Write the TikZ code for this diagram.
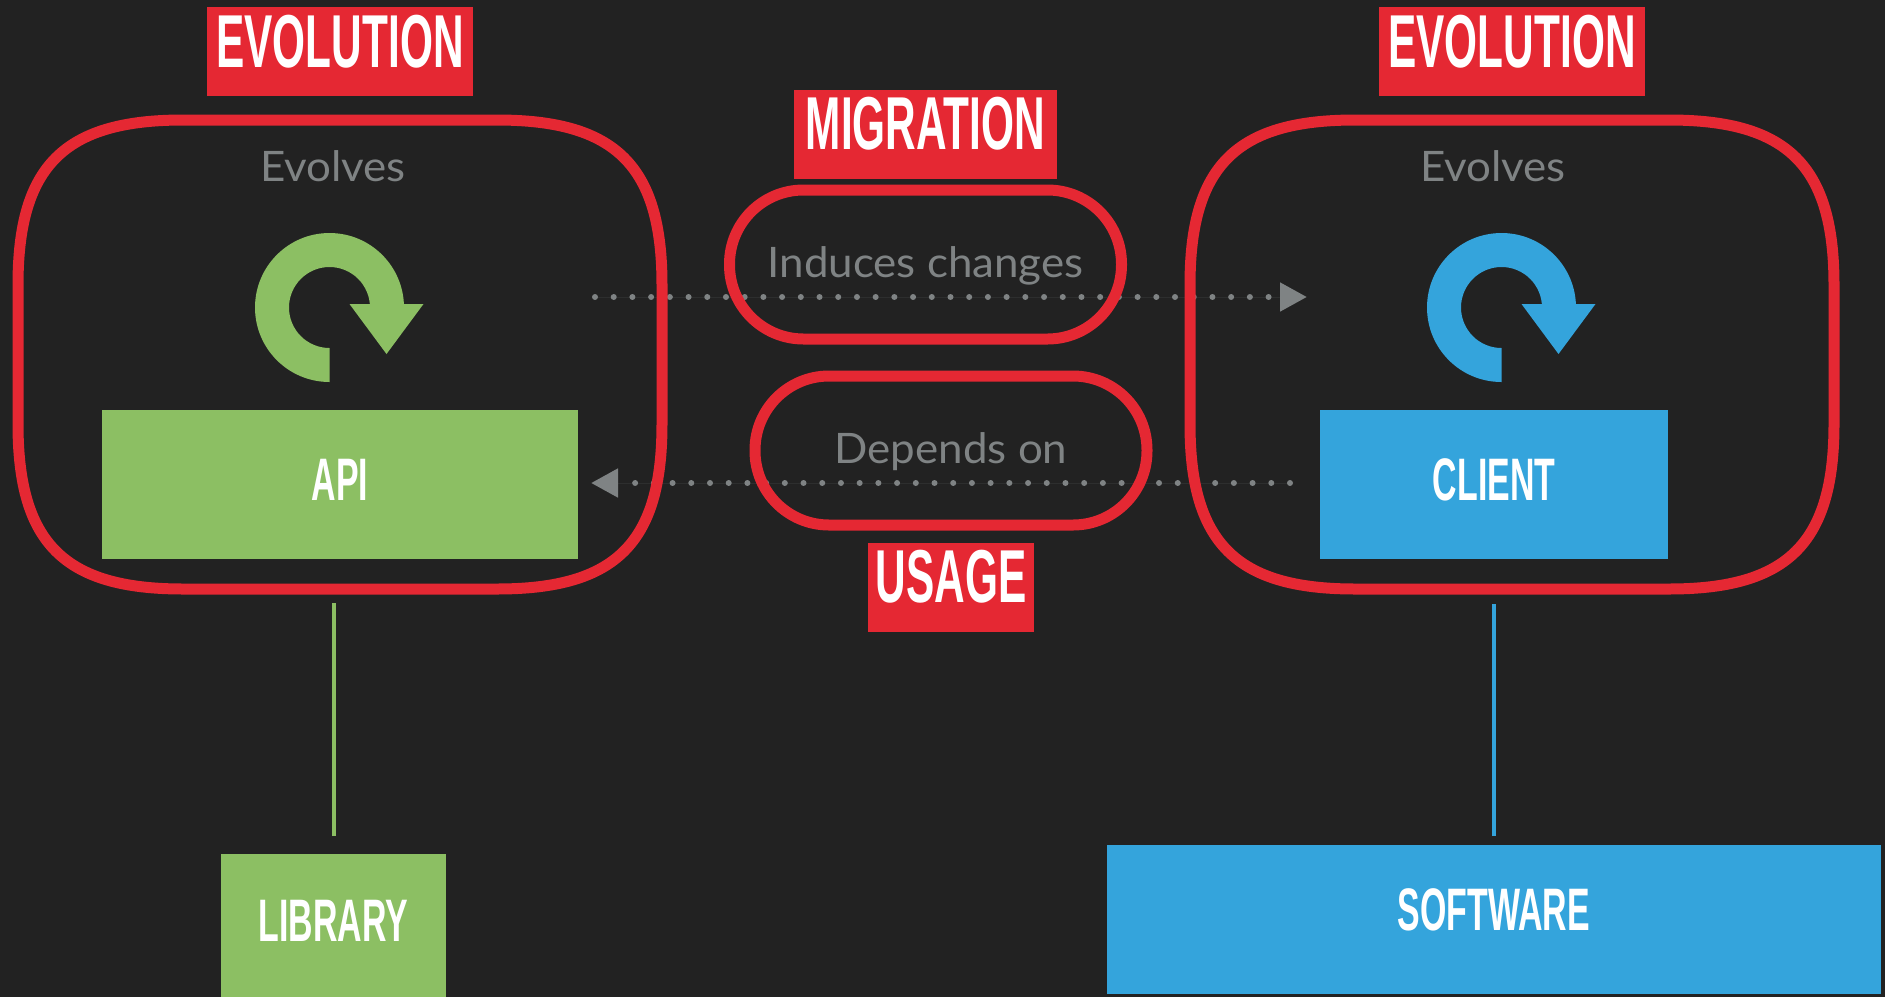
\documentclass[tikz,border=0pt]{standalone}
\usepackage{fontspec}
\usepackage{tikz}
\usetikzlibrary{positioning,arrows.meta}
\newfontfamily\tagfont[FakeStretch=0.565]{Liberation Sans}
\newfontfamily\notefont[FakeStretch=1.045]{Lato}
\definecolor{bgdark}{HTML}{222222}
\definecolor{tagred}{HTML}{E52833}
\definecolor{apigreen}{HTML}{8CBF63}
\definecolor{clientblue}{HTML}{34A4DC}
\definecolor{notegray}{HTML}{7F8384}
\tikzstyle{redtag} = [fill=tagred, text=white, outer sep=0pt, inner xsep=0pt, inner ysep=8pt,
    text height=52pt, text depth=21pt, font=\tagfont\bfseries\fontsize{75}{80}\selectfont]
\tikzstyle{evolvebox} = [rectangle, outer sep=0pt, inner sep=0pt,
    minimum width=644pt, minimum height=469pt]
\tikzstyle{redline} = [draw=tagred, line width=11pt]
\tikzstyle{pill} = [redline, rectangle, rounded corners=74pt,
    minimum width=392pt, minimum height=149pt, text=notegray, text height=29pt, text depth=3.5pt,
    font=\notefont\fontsize{42}{48}\selectfont]
\tikzstyle{colorbox} = [text=white, outer sep=0pt, inner sep=0pt, text height=41.5pt, text depth=10pt,
    font=\tagfont\bfseries\fontsize{60}{64}\selectfont]
\tikzstyle{evolvetext} = [text=notegray, anchor=base, font=\notefont\fontsize{42}{48}\selectfont]
\tikzstyle{dottedlink} = [draw=notegray, fill=notegray, line width=6pt, line cap=round,
    dash pattern=on 0.01pt off 18.7pt]
\tikzstyle{linktip} = [-{Triangle[length=27pt,width=27.6pt]}]

\begin{document}
\begin{tikzpicture}[x=1pt,y=1pt]

\useasboundingbox (0,-997) rectangle (1885,0);
\fill[bgdark] (0,-997) rectangle (1885,0);

\node [colorbox, fill=apigreen, minimum width=476pt, minimum height=149pt] (api) at (340,-484.5) {API};
\node [colorbox, fill=clientblue, minimum width=348pt, minimum height=149pt] (client) at (1494,-484.5) {CLIENT};
\node [colorbox, fill=apigreen, minimum width=225pt, minimum height=143pt] (library) at (333.5,-925.5) {LIBRARY};
\node [colorbox, fill=clientblue, minimum width=774pt, minimum height=149pt, text depth=19pt] (software) at (1494,-919.5) {SOFTWARE};

% circular arrows
\foreach \cx/\col in {329.5/apigreen, 1501.5/clientblue}{
    \fill[\col, shift={(\cx,-307.5)}] (0,-74.5) arc [start angle=270, end angle=0, radius=74.5]
        -- (74.5,3.5) -- (94,3.5) -- (57,-46.5) -- (20,3.5) -- (40.5,3.5) -- (40.5,0)
        arc [start angle=0, end angle=270, radius=40.5] -- cycle;
}

\node [evolvetext] (evolvesapi) at (333,-181.5) {Evolves};
\node [evolvetext] (evolvesclient) at (1493,-181.5) {Evolves};

% dotted links go under the red outlines
\coordinate (changesstart) at (595,-297);
\coordinate (changesend) at (1307,-297);
\draw [dottedlink, linktip] (changesstart) -- (changesend);
\draw [dottedlink, linktip, shorten <=30pt, shorten >=13pt] ([yshift=1.5pt]client.west) -- ([yshift=1.5pt]api.east);

\node [evolvebox] (evolveapi) at (340,-354.5) {};
\node [evolvebox] (evolveclient) at (1512,-354.5) {};

\foreach \boxname in {evolveapi, evolveclient}{
    \draw [redline] ([yshift=-165pt]\boxname.north west)
        .. controls +(0,119) and +(-119,0) .. ([xshift=165pt]\boxname.north west)
        -- ([xshift=-165pt]\boxname.north east)
        .. controls +(119,0) and +(0,119) .. ([yshift=-165pt]\boxname.north east)
        -- ([yshift=165pt]\boxname.south east)
        .. controls +(0,-119) and +(119,0) .. ([xshift=-165pt]\boxname.south east)
        -- ([xshift=165pt]\boxname.south west)
        .. controls +(-119,0) and +(0,-119) .. ([yshift=165pt]\boxname.south west)
        -- cycle;
}

\node [redtag, minimum width=266pt, above=24pt of evolveapi.north] (tagapi) {EVOLUTION};
\node [redtag, minimum width=266pt, above=24pt of evolveclient.north] (tagclient) {EVOLUTION};

\node [pill] (changes) at (925.5,-264.5) {Induces changes};
\node [redtag, minimum width=263pt, above=6pt of changes.north] (tagmigration) {MIGRATION};

\node [pill] (depends) at (951,-450.5) {Depends on};
\node [redtag, minimum width=166pt, below=12pt of depends.south] (tagusage) {USAGE};

\draw [apigreen, line width=4pt, shorten <=18pt, shorten >=14pt] (library.north) -- (library.north |- evolveapi.south);
\draw [clientblue, line width=4pt, shorten <=9pt, shorten >=15pt] (software.north) -- (software.north |- evolveclient.south);

\end{tikzpicture}
\end{document}
